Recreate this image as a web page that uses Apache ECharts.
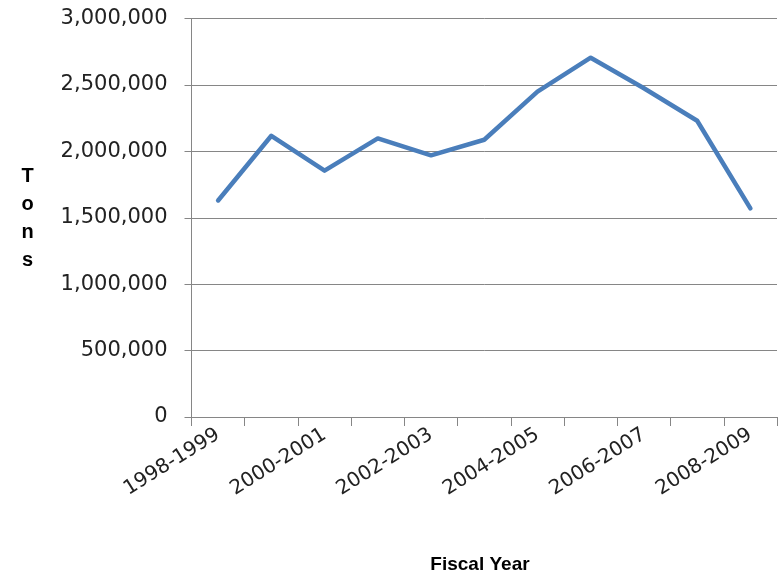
<!DOCTYPE html>
<html>
<head>
<meta charset="utf-8">
<script src="https://cdn.jsdelivr.net/npm/echarts@6/dist/echarts.min.js"></script>
<style>html,body{margin:0;padding:0;background:#fff;}#c{width:784px;height:577px;}</style>
</head>
<body>
<div id="c"></div>
<script>
const categories = ['1998-1999','1999-2000','2000-2001','2001-2002','2002-2003','2003-2004','2004-2005','2005-2006','2006-2007','2007-2008','2008-2009'];
const tons = [1630000, 2117000, 1855000, 2097000, 1970000, 2087000, 2450000, 2705000, 2475000, 2230000, 1570000];
const yAxisTitle = 'T\no\nn\ns';
const xAxisTitle = 'Fiscal Year';

const chart = echarts.init(document.getElementById('c'), null, {renderer: 'canvas'});
const labelFont = 'DejaVu Sans';
chart.setOption({
  animation: false,
  backgroundColor: '#ffffff',
  grid: {left: 191.5, right: 7, top: 18.5, bottom: 160, containLabel: false},
  xAxis: {
    type: 'category',
    data: categories,
    boundaryGap: true,
    axisLine: {lineStyle: {color: '#868686', width: 1}},
    axisTick: {show: true, interval: 0, length: 9, lineStyle: {color: '#868686'}},
    axisLabel: {interval: 1, rotate: 32, margin: 16, color: '#222222', fontFamily: labelFont, fontSize: 20}
  },
  yAxis: {
    type: 'value',
    min: 0, max: 3000000, interval: 500000,
    axisLine: {show: true, lineStyle: {color: '#868686', width: 1}},
    axisTick: {show: true, length: 7, lineStyle: {color: '#868686'}},
    splitLine: {lineStyle: {color: '#868686', width: 1}},
    axisLabel: {margin: 24, color: '#222222', fontFamily: labelFont, fontSize: 21,
      formatter: v => v.toLocaleString('en-US')}
  },
  graphic: [
    {type: 'text', x: 27.5, y: 162,
      style: {text: yAxisTitle, font: 'bold 20px "Liberation Sans"', lineHeight: 28, fill: '#000', textAlign: 'center'}},
    {type: 'text', x: 480, y: 565,
      style: {text: xAxisTitle, font: 'bold 19px "Liberation Sans"', fill: '#000', textAlign: 'center', textVerticalAlign: 'middle'}}
  ],
  series: [{
    type: 'line',
    data: tons,
    symbol: 'none',
    lineStyle: {color: '#4A7EBB', width: 4.5, cap: 'round', join: 'round'},
    itemStyle: {color: '#4A7EBB'}
  }]
});
</script>
</body>
</html>
